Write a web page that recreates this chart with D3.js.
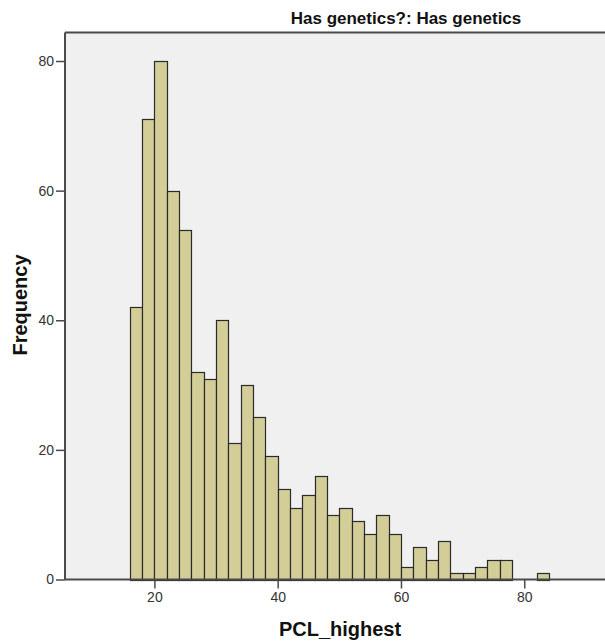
<!DOCTYPE html>
<html>
<head>
<meta charset="utf-8">
<script src="https://cdn.jsdelivr.net/npm/d3@7"></script>
<style>
  html, body { margin: 0; padding: 0; background: #fff; }
  svg { display: block; }
</style>
</head>
<body>
<svg id="chart" width="605" height="641"></svg>
<script>
// Data: histogram of PCL_highest, bin width 2, starting at 16
const binStarts = [16,18,20,22,24,26,28,30,32,34,36,38,40,42,44,46,48,50,52,54,56,58,60,62,64,66,68,70,72,74,76,78,80,82];
const frequencies = [42,71,80,60,54,32,31,40,21,30,25,19,14,11,13,16,10,11,9,7,10,7,2,5,3,6,1,1,2,3,3,0,0,1];
const binWidth = 2;
const xTicks = [20, 40, 60, 80];
const yTicks = [0, 20, 40, 60, 80];
const title = "Has genetics?: Has genetics";
const xLabel = "PCL_highest";
const yLabel = "Frequency";

const plotLeft = 65, plotRight = 605, plotTop = 32.5, plotBottom = 579.5;

const svg = d3.select("#chart");
const x = d3.scaleLinear().domain([5.5, 93.1]).range([plotLeft, plotRight]);
const y = d3.scaleLinear().domain([0, 84.4]).range([plotBottom, plotTop]);

// Plot background
svg.append("rect")
  .attr("x", plotLeft).attr("y", plotTop)
  .attr("width", plotRight - plotLeft).attr("height", plotBottom - plotTop)
  .attr("fill", "#f0f0f0");

// Bars
const bins = binStarts.map((s, i) => ({ x0: s, x1: s + binWidth, v: frequencies[i] }));
svg.append("g").selectAll("rect")
  .data(bins.filter(d => d.v > 0))
  .join("rect")
  .attr("x", d => Math.round(x(d.x0)) + 0.5)
  .attr("width", d => Math.round(x(d.x1)) - Math.round(x(d.x0)))
  .attr("y", d => Math.round(y(d.v)) + 0.5)
  .attr("height", d => Math.round(plotBottom) - Math.round(y(d.v)))
  .attr("fill", "#d3ce98")
  .attr("stroke", "#2a2a2a")
  .attr("stroke-width", 1.2);

// Axes
const fontTick = "'Liberation Sans', Arial, sans-serif";
const xAxis = d3.axisBottom(x).tickValues(xTicks).tickSize(9).tickPadding(4).tickFormat(d3.format("d"));
const yAxis = d3.axisLeft(y).tickValues(yTicks).tickSize(9).tickPadding(2).tickFormat(d3.format("d"));

const gx = svg.append("g").attr("transform", `translate(0,${plotBottom})`).call(xAxis);
const gy = svg.append("g").attr("transform", `translate(${plotLeft},0)`).call(yAxis);

[gx, gy].forEach(g => {
  g.select(".domain").remove();
  g.selectAll(".tick line").attr("stroke", "#4a4a4a").attr("stroke-width", 1.5);
  g.selectAll(".tick text")
    .attr("fill", "#333")
    .style("font-family", fontTick)
    .style("font-size", "14px");
});

// Axis lines
svg.append("line").attr("x1", plotLeft).attr("x2", plotRight).attr("y1", plotBottom).attr("y2", plotBottom)
  .attr("stroke", "#4a4a4a").attr("stroke-width", 2);
svg.append("line").attr("x1", plotLeft).attr("x2", plotLeft).attr("y1", plotTop).attr("y2", plotBottom)
  .attr("stroke", "#4a4a4a").attr("stroke-width", 2);
svg.append("line").attr("x1", plotLeft).attr("x2", plotRight).attr("y1", plotTop).attr("y2", plotTop)
  .attr("stroke", "#4a4a4a").attr("stroke-width", 2);

// Title
svg.append("text")
  .attr("x", 406).attr("y", 24)
  .attr("text-anchor", "middle")
  .style("font-family", fontTick)
  .style("font-weight", "bold")
  .style("font-size", "17px")
  .attr("fill", "#111")
  .text(title);

// X label
svg.append("text")
  .attr("x", 340).attr("y", 636)
  .attr("text-anchor", "middle")
  .style("font-family", fontTick)
  .style("font-weight", "bold")
  .style("font-size", "20px")
  .attr("fill", "#111")
  .text(xLabel);

// Y label
svg.append("text")
  .attr("transform", "translate(27,305) rotate(-90)")
  .attr("text-anchor", "middle")
  .style("font-family", fontTick)
  .style("font-weight", "bold")
  .style("font-size", "20px")
  .attr("fill", "#111")
  .text(yLabel);
</script>
</body>
</html>
